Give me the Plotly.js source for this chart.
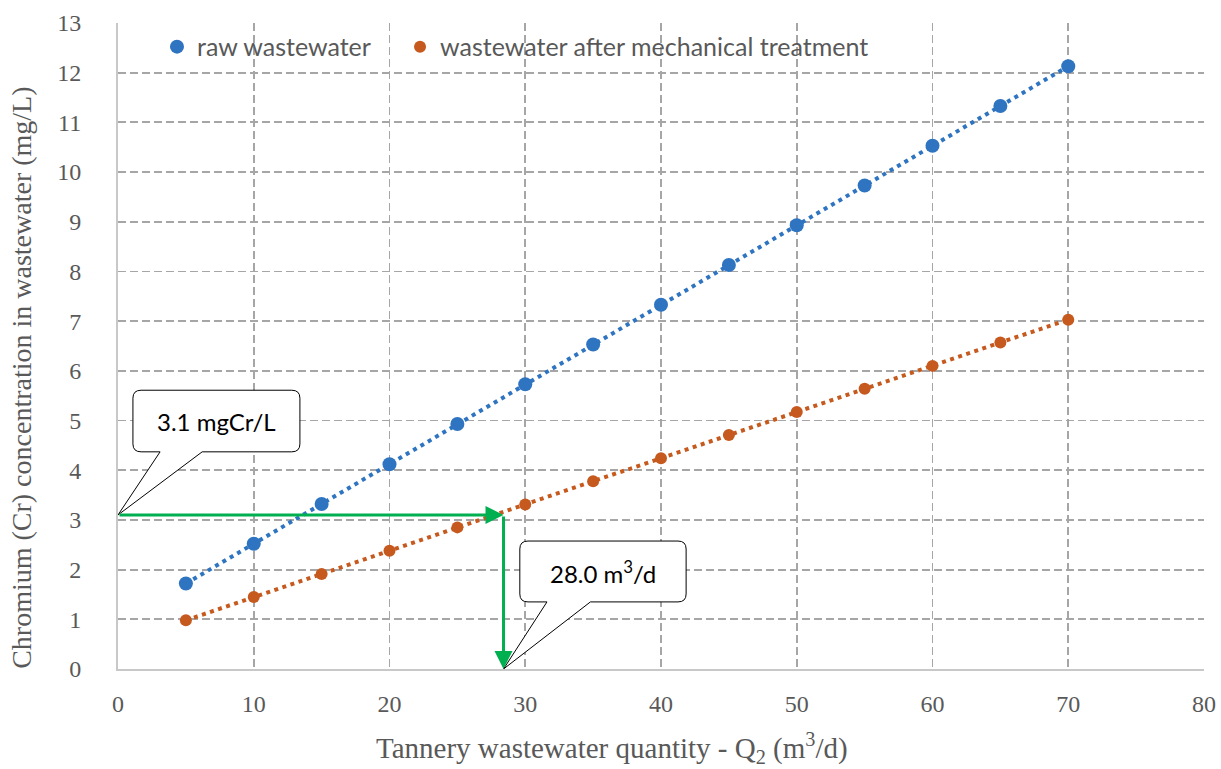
<!DOCTYPE html>
<html>
<head>
<meta charset="utf-8">
<script src="https://cdn.plot.ly/plotly-3.0.1.min.js"></script>
<style>html,body{margin:0;padding:0;background:#fff}#chart{width:1221px;height:769px}</style>
</head>
<body>
<div id="chart"></div>
<script>
// ---- data ----
const quantity = [5, 10, 15, 20, 25, 30, 35, 40, 45, 50, 55, 60, 65, 70];
const rawWastewater = [1.72, 2.52, 3.32, 4.12, 4.93, 5.73, 6.53, 7.33, 8.13, 8.93, 9.73, 10.53, 11.33, 12.13];
const afterMechanical = [0.98, 1.45, 1.91, 2.38, 2.85, 3.31, 3.78, 4.24, 4.71, 5.17, 5.64, 6.10, 6.57, 7.03];
const seriesNames = ["raw wastewater", "wastewater after mechanical treatment"];
const xTicks = [0, 10, 20, 30, 40, 50, 60, 70, 80];
const yTicks = [0, 1, 2, 3, 4, 5, 6, 7, 8, 9, 10, 11, 12, 13];
const xTitle = "Tannery wastewater quantity - Q<sub>2</sub> (m<sup>3</sup>/d)";
const yTitle = "Chromium (Cr) concentration in wastewater (mg/L)";
const readConcentration = 3.1;   // mgCr/L
const readQuantity = 28.4;       // arrow position on x axis
const calloutTexts = ["3.1 mgCr/L", "28.0 m<sup>3</sup>/d"];

const blue = "#2E74C1";
const orange = "#C65A1E";
const green = "#00B050";
const serif = "'Liberation Serif', 'Times New Roman', serif";
const sans = "Lato, 'Open Sans', sans-serif";

const traces = [
  {x: quantity, y: rawWastewater, mode: "lines", showlegend: false, hoverinfo: "skip",
   line: {color: blue, width: 4, dash: "4px,4.5px"}},
  {x: quantity, y: afterMechanical, mode: "lines", showlegend: false, hoverinfo: "skip",
   line: {color: orange, width: 4, dash: "4px,4.5px"}},
  {x: quantity, y: rawWastewater, mode: "markers", name: seriesNames[0], legend: "legend",
   marker: {color: blue, size: 14}},
  {x: quantity, y: afterMechanical, mode: "markers", name: seriesNames[1], legend: "legend2",
   marker: {color: orange, size: 12}}
];

// callout bubble path (data coords): rounded box + pointer
function bubble(x0, x1, y0, y1, p0, p1, tx, ty) {
  const rx = 0.6, ry = 0.16;
  return `M${x0+rx},${y1} L${x1-rx},${y1} Q${x1},${y1} ${x1},${y1-ry} L${x1},${y0+ry} Q${x1},${y0} ${x1-rx},${y0} ` +
         `L${p1},${y0} L${tx},${ty} L${p0},${y0} L${x0+rx},${y0} Q${x0},${y0} ${x0},${y0+ry} ` +
         `L${x0},${y1-ry} Q${x0},${y1} ${x0+rx},${y1} Z`;
}

const legendStyle = (x) => ({orientation: "h", x: x, y: 0.963, xanchor: "left", yanchor: "middle",
  font: {family: sans, size: 25, color: "#595959"}, bgcolor: "rgba(0,0,0,0)", itemwidth: 30});

const layout = {
  width: 1221, height: 769,
  margin: {l: 118, r: 17, t: 23, b: 100},
  paper_bgcolor: "#fff", plot_bgcolor: "#fff",
  showlegend: true,
  legend: legendStyle(0.0359),
  legend2: legendStyle(0.2597),
  xaxis: {range: [0, 80], tickvals: xTicks, showgrid: true, gridcolor: "#A6A6A6", griddash: "8px,4px", gridwidth: 1.8,
    showline: true, linecolor: "#C8C8C8", linewidth: 2, zeroline: false, ticks: "",
    tickfont: {family: serif, size: 24, color: "#595959"},
    ticklabelstandoff: 12},
  yaxis: {range: [0, 13], tickvals: yTicks, showgrid: true, gridcolor: "#A6A6A6", griddash: "8px,4px", gridwidth: 1.8,
    showline: true, linecolor: "#C8C8C8", linewidth: 2, zeroline: false, ticks: "",
    tickfont: {family: serif, size: 24, color: "#595959"},
    ticklabelstandoff: 30},
  shapes: [
    {type: "path", xref: "x", yref: "y", layer: "above",
     path: bubble(1.1, 13.4, 4.37, 5.61, 3.1, 6.2, 0, readConcentration),
     fillcolor: "#fff", line: {color: "#000", width: 1}},
    {type: "path", xref: "x", yref: "y", layer: "above",
     path: bubble(29.6, 41.85, 1.35, 2.575, 31.6, 34.8, readQuantity, 0),
     fillcolor: "#fff", line: {color: "#000", width: 1}}
  ],
  annotations: [
    {x: readQuantity, y: readConcentration, ax: 0, ay: readConcentration, xref: "x", yref: "y", axref: "x", ayref: "y",
     showarrow: true, arrowhead: 2, arrowsize: 1.2, arrowwidth: 3, arrowcolor: green, text: "", standoff: 0},
    {x: readQuantity, y: 0, ax: readQuantity, ay: readConcentration, xref: "x", yref: "y", axref: "x", ayref: "y",
     showarrow: true, arrowhead: 2, arrowsize: 1.2, arrowwidth: 3, arrowcolor: green, text: "", standoff: 0},
    {x: 7.25, y: 4.99, xref: "x", yref: "y", showarrow: false, text: calloutTexts[0],
     font: {family: sans, size: 24, color: "#000"}},
    {x: 35.7, y: 1.95, xref: "x", yref: "y", showarrow: false, text: calloutTexts[1],
     font: {family: sans, size: 24, color: "#000"}},
    {x: 0.455, y: -0.1223, xref: "paper", yref: "paper", xanchor: "center", yanchor: "middle", showarrow: false,
     text: xTitle, font: {family: serif, size: 29, color: "#595959"}},
    {x: -0.0885, y: 0.4505, xref: "paper", yref: "paper", xanchor: "center", yanchor: "middle", showarrow: false,
     textangle: -90, text: yTitle, font: {family: serif, size: 28, color: "#595959"}}
  ]
};

Plotly.newPlot("chart", traces, layout, {displayModeBar: false, staticPlot: true});
</script>
</body>
</html>
